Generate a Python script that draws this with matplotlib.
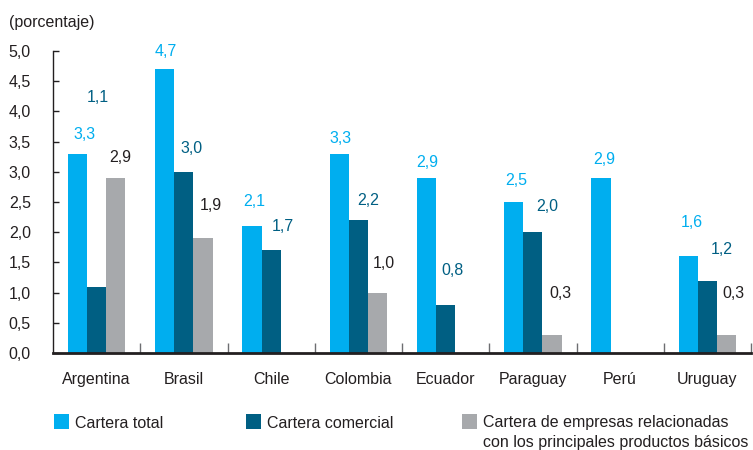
import matplotlib
matplotlib.use('Agg')
import matplotlib.pyplot as plt
from matplotlib.patches import Rectangle
import numpy as np

plt.rcParams['font.family'] = ['Liberation Sans', 'DejaVu Sans']
plt.rcParams['font.size'] = 11.5

paises = ['Argentina', 'Brasil', 'Chile', 'Colombia', 'Ecuador', 'Paraguay', 'Perú', 'Uruguay']
total = [3.3, 4.7, 2.1, 3.3, 2.9, 2.5, 2.9, 1.6]
comercial = [1.1, 3.0, 1.7, 2.2, 0.8, 2.0, None, 1.2]
basicos = [2.9, 1.9, None, 1.0, None, 0.3, None, 0.3]
yticks = [0.0, 0.5, 1.0, 1.5, 2.0, 2.5, 3.0, 3.5, 4.0, 4.5, 5.0]

# where each value label sits: (shift from category centre, height)
pos_total = [(-0.144, 3.61), (-0.205, 5.0), (-0.196, 2.50), (-0.205, 3.55),
             (-0.213, 3.15), (-0.187, 2.85), (-0.185, 3.2), (-0.18, 2.16)]
pos_comercial = [(0.016, 4.23), (0.082, 3.38), (0.136, 2.10), (0.116, 2.52),
                 (0.079, 1.36), (0.162, 2.42), None, (0.162, 1.71)]
pos_basicos = [(0.274, 3.23), (0.305, 2.45), None, (0.294, 1.49),
               None, (0.317, 0.98), None, (0.294, 0.98)]

c_total = '#00aeef'
c_com = '#005f83'
c_bas = '#a7a9ac'
c_text = '#231f20'

fig = plt.figure(figsize=(7.53, 4.5), dpi=100)
ax = fig.add_axes([53/753, 97/450, 698/753, 302/450])

x = np.arange(len(paises))
w = 0.22
series = [(total, -w, c_total, pos_total, c_total),
          (comercial, 0, c_com, pos_comercial, c_com),
          (basicos, w, c_bas, pos_basicos, c_text)]
for vals, off, col, pos, tcol in series:
    xs = [xi + off for xi, v in zip(x, vals) if v is not None]
    hs = [v for v in vals if v is not None]
    ax.bar(xs, hs, width=w, color=col, edgecolor='none')
    for xi, v, p in zip(x, vals, pos):
        if v is None:
            continue
        ax.text(xi + p[0], p[1], f'{v:.1f}'.replace('.', ','), color=tcol,
                ha='center', va='center', fontsize=11.5)

ax.set_xlim(-0.5, len(paises) - 0.5)
ax.set_ylim(0, 5)
ax.set_yticks(yticks)
ax.set_yticklabels([f'{t:.1f}'.replace('.', ',') for t in yticks], color=c_text)
ax.tick_params(axis='y', direction='in', length=4, width=1, pad=16, colors=c_text)
ax.set_xticks(x)
ax.set_xticklabels(paises, color=c_text)
ax.tick_params(axis='x', which='major', length=0, pad=14)
ax.set_xticks(np.arange(len(paises)) + 0.5, minor=True)
ax.tick_params(axis='x', which='minor', direction='in', length=7, width=1, color='#6d6e71')
ax.tick_params(axis='y', which='minor', length=0)
for s in ['top', 'right']:
    ax.spines[s].set_visible(False)
ax.spines['left'].set_linewidth(1)
ax.spines['left'].set_color(c_text)
ax.spines['bottom'].set_linewidth(2)
ax.spines['bottom'].set_color(c_text)

fig.text(9/753, 1 - 23/450, '(porcentaje)', color=c_text, ha='left', va='center')

# legend drawn by hand
legend = [(54, c_total, ['Cartera total']),
          (246, c_com, ['Cartera comercial']),
          (462, c_bas, ['Cartera de empresas relacionadas',
                        'con los principales productos básicos'])]
for lx, col, lines in legend:
    fig.add_artist(Rectangle((lx/753, 1 - 429/450), 15/753, 15/450,
                             transform=fig.transFigure, color=col, lw=0))
    for i, line in enumerate(lines):
        fig.text((lx + 21)/753, 1 - (423 + 20*i)/450, line, color=c_text,
                 ha='left', va='center')

fig.savefig('out.png', dpi=100)
